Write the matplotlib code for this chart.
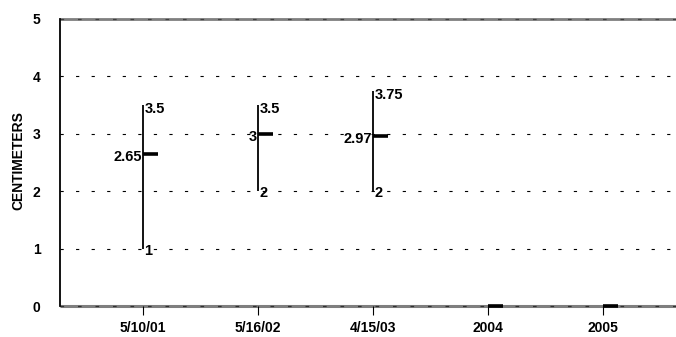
import matplotlib
matplotlib.use("Agg")
import matplotlib.pyplot as plt
import numpy as np
from matplotlib.transforms import offset_copy

plt.rcParams['font.family'] = ['Liberation Sans', 'DejaVu Sans']
plt.rcParams['font.weight'] = 'bold'

categories = ["5/10/01", "5/16/02", "4/15/03", "2004", "2005"]
high = [3.5, 3.5, 3.75, np.nan, np.nan]
low = [1, 2, 2, np.nan, np.nan]
close = [2.65, 3, 2.97, 0, 0]
high_labels = ["3.5", "3.5", "3.75", "", ""]
low_labels = ["1", "2", "2", "", ""]
close_labels = ["2.65", "3", "2.97", "", ""]
yticks = [0, 1, 2, 3, 4, 5]

W, H = 676, 337
fig = plt.figure(figsize=(W / 100, H / 100), dpi=100)
ax = fig.add_axes([60 / W, 1 - 306 / H, (676 - 60) / W, (306 - 19) / H])

x = np.arange(len(categories))
X0, X1 = -0.722, 4.635
ax.set_xlim(X0, X1)
ax.set_ylim(0, 5)

# grid lines
for yv in yticks[1:5]:
    ln, = ax.plot([X0, X1], [yv, yv], color='black', lw=0.8, zorder=1)
    ln.set_dashes([2.9, 11.1])
# top line gray with dark dashes
ax.plot([X0, X1], [5, 5], color='#7f7f7f', lw=2.0, zorder=0.9, solid_capstyle='butt', clip_on=False)
ln, = ax.plot([X0, X1], [5, 5], color='#404040', lw=0.9, zorder=1, clip_on=False)
ln.set_dashes([2.9, 11.1])
# bottom gray axis
ax.plot([X0, X1], [0, 0], color='#7f7f7f', lw=2.2, zorder=0.9, solid_capstyle='butt', clip_on=False)
ln, = ax.plot([X0, X1], [0, 0], color='#303030', lw=0.9, zorder=1, clip_on=False)
ln.set_dashes([2.9, 11.1])

# high-low lines
ax.vlines(x, low, high, color='black', lw=1.3, zorder=3)
# close ticks
ax.hlines(close, x, x + 0.13, color='black', lw=2.6, zorder=4, clip_on=False)

fs = 10.5
for i in range(len(categories)):
    if high_labels[i]:
        t = offset_copy(ax.transData, fig=fig, x=2, y=-4, units='dots')
        ax.text(x[i], high[i], high_labels[i], transform=t, ha='left', va='center', fontsize=fs, fontweight='bold')
    if low_labels[i]:
        t = offset_copy(ax.transData, fig=fig, x=1, y=-2, units='dots')
        ax.text(x[i], low[i], low_labels[i], transform=t, ha='left', va='center', fontsize=fs, fontweight='bold')
    if close_labels[i]:
        t = offset_copy(ax.transData, fig=fig, x=-1, y=-3, units='dots')
        ax.text(x[i], close[i], close_labels[i], transform=t, ha='right', va='center', fontsize=fs, fontweight='bold')

for s in ['top', 'right', 'bottom']:
    ax.spines[s].set_visible(False)
ax.spines['left'].set_linewidth(1.3)
ax.spines['left'].set_color('black')
ax.spines['left'].set_zorder(5)

ax.set_yticks(yticks)
ax.set_yticklabels([str(v) for v in yticks], fontsize=10, fontweight='bold')
ax.tick_params(axis='y', length=0, pad=14)
ax.set_xticks(x)
ax.set_xticklabels(categories, fontsize=10, fontweight='bold')
ax.tick_params(axis='x', length=6.5, width=0.8, direction='out', pad=4.5)

fig.text(18 / W, 1 - 161 / H, "CENTIMETERS", rotation=90, ha='center', va='center', fontsize=10, fontweight='bold')

fig.savefig("out.png", dpi=100)
